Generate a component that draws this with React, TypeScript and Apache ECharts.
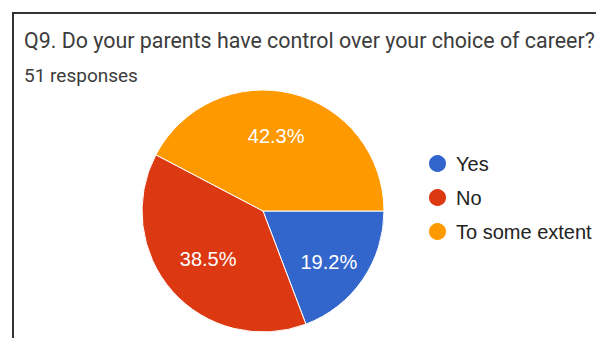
import React, { useEffect, useRef } from "react";
import * as echarts from "echarts";

const titleText = "Q9. Do your parents have control over your choice of career?";
const subtitleText = "51 responses";
const categories = ["Yes", "No", "To some extent"];
const values = [10, 20, 22];
const percentLabels = ["19.2%", "38.5%", "42.3%"];
const colors = ["#3366cc", "#dc3912", "#ff9900"];
const labelNudges = [[0, 6], [5, -5], [-6, 3]];

export default function App() {
  const ref = useRef<HTMLDivElement>(null);
  useEffect(() => {
    if (!ref.current) return;
    const chart = echarts.init(ref.current, undefined, { renderer: "svg" });
    const data = categories.map((c, i) => ({
      name: c,
      value: values[i],
      itemStyle: { color: colors[i] },
    }));
    chart.setOption({
      animation: false,
      backgroundColor: "#ffffff",
      title: [
        {
          text: titleText,
          left: 19,
          top: 25,
          textStyle: { fontFamily: "Roboto", fontSize: 21.4, fontWeight: "normal", color: "#3c3c3c" },
        },
        {
          text: subtitleText,
          left: 19,
          top: 61,
          textStyle: { fontFamily: "Roboto", fontSize: 19, fontWeight: "normal", color: "#3c3c3c" },
        },
      ],
      legend: {
        orient: "vertical",
        left: 422,
        top: 148,
        icon: "circle",
        itemWidth: 19,
        itemHeight: 19,
        itemGap: 13,
        data: categories,
        textStyle: { fontFamily: "Liberation Sans", fontSize: 20, color: "#222", padding: [0, 0, 0, 4] },
      },
      graphic: [
        { type: "line", shape: { x1: 13, y1: 13, x2: 596, y2: 13 }, style: { stroke: "#333", lineWidth: 2 } },
        { type: "line", shape: { x1: 13, y1: 12, x2: 13, y2: 338 }, style: { stroke: "#333", lineWidth: 2 } },
      ],
      series: [
        {
          type: "pie",
          center: [263, 211],
          radius: [0, 121],
          startAngle: 0,
          clockwise: true,
          data,
          label: { show: false },
          labelLine: { show: false },
          itemStyle: { borderColor: "#ffffff", borderWidth: 1 },
          emphasis: { disabled: true },
        },
        {
          type: "pie",
          center: [263, 211],
          radius: [34, 120],
          startAngle: 0,
          clockwise: true,
          silent: true,
          data: categories.map((c, i) => ({
            name: c,
            value: values[i],
            itemStyle: { color: "rgba(0,0,0,0)" },
            label: { formatter: percentLabels[i], offset: labelNudges[i] },
          })),
          label: {
            show: true,
            position: "inside",
            color: "#ffffff",
            fontFamily: "Liberation Sans",
            fontSize: 20,
          },
          labelLine: { show: false },
          emphasis: { disabled: true },
        },
      ],
    });
    return () => chart.dispose();
  }, []);
  return (
    <div
      ref={ref}
      style={{ position: "absolute", left: 0, top: 0, width: 596, height: 338 }}
    />
  );
}
